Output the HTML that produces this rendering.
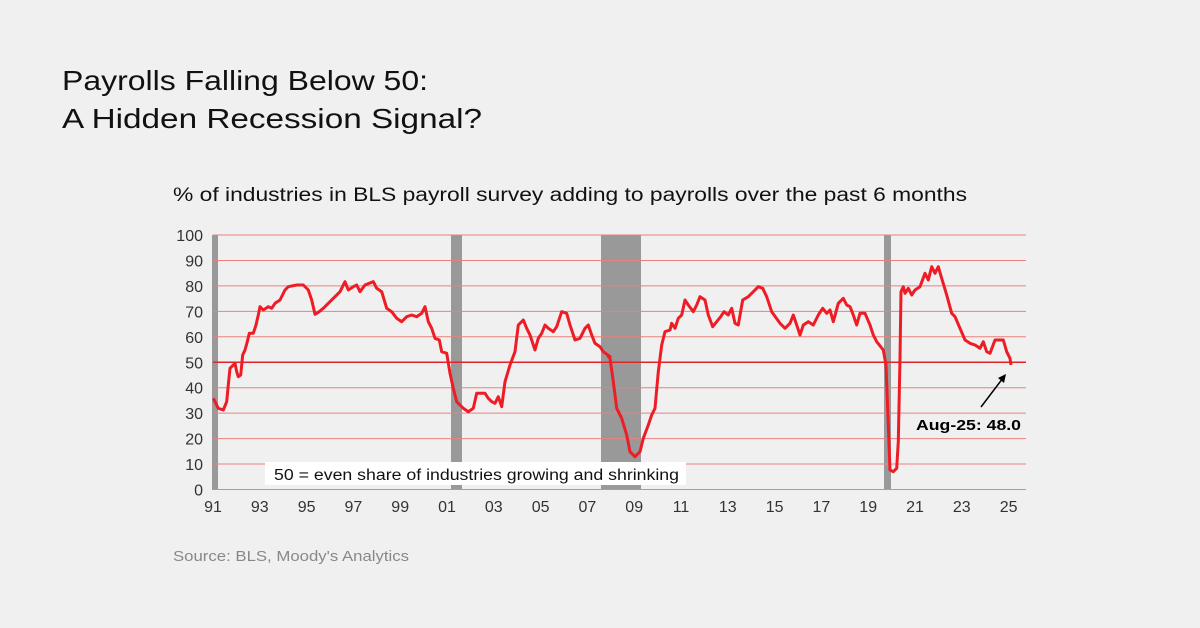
<!DOCTYPE html>
<html><head><meta charset="utf-8"><style>
body{margin:0;background:#f0f0f0;}
svg{display:block;font-family:"Liberation Sans",sans-serif;}
</style></head><body>
<svg id="s" width="1200" height="628" viewBox="0 0 1200 628">
<rect width="1200" height="628" fill="#f0f0f0"/>
<text x="62" y="90" font-size="28" fill="#111" textLength="366" lengthAdjust="spacingAndGlyphs">Payrolls Falling Below 50:</text>
<text x="62" y="128" font-size="28" fill="#111" textLength="420" lengthAdjust="spacingAndGlyphs">A Hidden Recession Signal?</text>
<text x="173" y="201" font-size="19" fill="#111" textLength="794" lengthAdjust="spacingAndGlyphs">% of industries in BLS payroll survey adding to payrolls over the past 6 months</text>
<g fill="#999">
<rect x="212" y="235" width="6" height="255"/>
<rect x="451" y="235" width="11" height="255"/>
<rect x="601" y="235" width="40" height="255"/>
<rect x="884" y="235" width="7" height="255"/>
</g>
<g id="grid"></g>
<rect x="265" y="462" width="421" height="23" fill="#fff"/>
<text x="274" y="480" font-size="15.5" fill="#111" textLength="405" lengthAdjust="spacingAndGlyphs">50 = even share of industries growing and shrinking</text>
<path id="ln" fill="none" stroke="#ee1c25" stroke-width="3" stroke-linejoin="round"/>
<line x1="981" y1="407" x2="1003" y2="378" stroke="#000" stroke-width="1.5"/>
<polygon points="1006,374 998,378 1004,383" fill="#000"/>
<text x="916" y="430" font-size="15" font-weight="bold" fill="#000" textLength="105" lengthAdjust="spacingAndGlyphs">Aug-25: 48.0</text>
<g id="lab" font-size="16" fill="#333"></g>
<text x="173" y="561" font-size="15" fill="#888" textLength="236" lengthAdjust="spacingAndGlyphs">Source: BLS, Moody's Analytics</text>
</svg>
<script>
const ns="http://www.w3.org/2000/svg";
const g=document.getElementById('grid'),lab=document.getElementById('lab');
for(let v=0;v<=100;v+=10){const y=489.5-v*2.545;
const l=document.createElementNS(ns,'line');l.setAttribute('x1',213);l.setAttribute('x2',1026);l.setAttribute('y1',y);l.setAttribute('y2',y);
l.setAttribute('stroke',v==50?'#e0242a':'#ec8080');l.setAttribute('stroke-width',v==50?1.6:1);g.appendChild(l);
const t=document.createElementNS(ns,'text');t.setAttribute('x',203);t.setAttribute('y',y+6);t.setAttribute('text-anchor','end');t.textContent=v;lab.appendChild(t);}
const yrs=['91','93','95','97','99','01','03','05','07','09','11','13','15','17','19','21','23','25'];
yrs.forEach((s,i)=>{const t=document.createElementNS(ns,'text');t.setAttribute('x',213+i*46.8);t.setAttribute('y',512);t.setAttribute('text-anchor','middle');t.textContent=s;lab.appendChild(t);});
const z1=[[130,520],[145,550],[160,555],[170,530],[175,480],[180,430],[190,420],[195,415],[200,440],[205,455],[212,450],[218,390],[225,375],[232,350],[238,325],[250,325],[258,300],[265,270],[270,245],[280,255],[295,245],[305,250],[315,235],[330,225],[345,195],[355,185],[380,180],[400,180],[415,195],[425,225],[435,268],[445,262],[460,250],[475,235],[495,215],[510,200],[525,170],[535,195],[550,185],[560,180],[570,200],[585,180],[610,170],[620,190],[635,200],[650,250],[665,260],[680,280],[695,290],[710,275],[725,270],[740,275],[755,265],[765,245],[775,290],[785,310],[795,340],[808,345],[815,380],[830,385],[840,445],[850,490],[860,530],[870,540],[880,550],[895,560],[910,550],[920,505],[945,505],[955,520],[965,530],[975,535],[985,515],[995,545],[1005,470],[1020,420],[1035,380],[1045,300],[1060,285],[1070,310],[1080,330],[1095,375],[1105,340],[1115,325],[1125,300],[1135,310],[1150,320],[1160,305],[1175,260],[1190,265],[1200,300],[1215,345],[1230,340],[1245,310],[1255,300],[1265,330],[1275,355],[1290,365],[1300,380],[1320,395]];
const z2=[[25,395],[30,400],[40,470],[50,550],[65,580],[80,630],[90,680],[105,695],[120,680],[130,640],[145,600],[155,570],[165,550],[175,440],[185,360],[195,320],[210,315],[215,295],[225,310],[235,280],[245,270],[255,225],[265,240],[280,260],[290,240],[300,215],[315,225],[325,270],[338,305],[350,290],[362,275],[372,260],[385,270],[395,250],[405,295],[415,300],[428,225],[445,215],[460,200],[475,185],[488,190],[500,215],[515,260],[540,295],[555,310],[570,295],[580,270],[590,300],[600,330],[610,300],[625,290],[640,300],[655,270],[668,250],[680,265],[690,255],[700,290],[715,235],[730,220],[740,240],[750,245],[760,270],[770,300],[780,265],[795,265],[810,300],[820,330],[830,350],[850,375],[858,420],[865,600],[870,735],[880,740],[890,730],[895,650],[900,400],[903,200],[910,185],[915,205],[925,190],[935,210],[945,195],[960,185],[975,145],[985,165],[995,125],[1005,145],[1015,125],[1025,160],[1040,210],[1055,265],[1065,275],[1080,310],[1095,345],[1110,355],[1125,360],[1140,370],[1150,350],[1160,380],[1170,385],[1185,345],[1210,345],[1220,380],[1230,400],[1233,420]];
let pts=z1.map(p=>[170+p[0]/3,225+p[1]/3]).concat(z2.map(p=>[600+p[0]/3,225+p[1]/3]));
document.getElementById('ln').setAttribute('d','M'+pts.map(p=>p[0].toFixed(1)+','+p[1].toFixed(1)).join('L'));
</script>
</body></html>
